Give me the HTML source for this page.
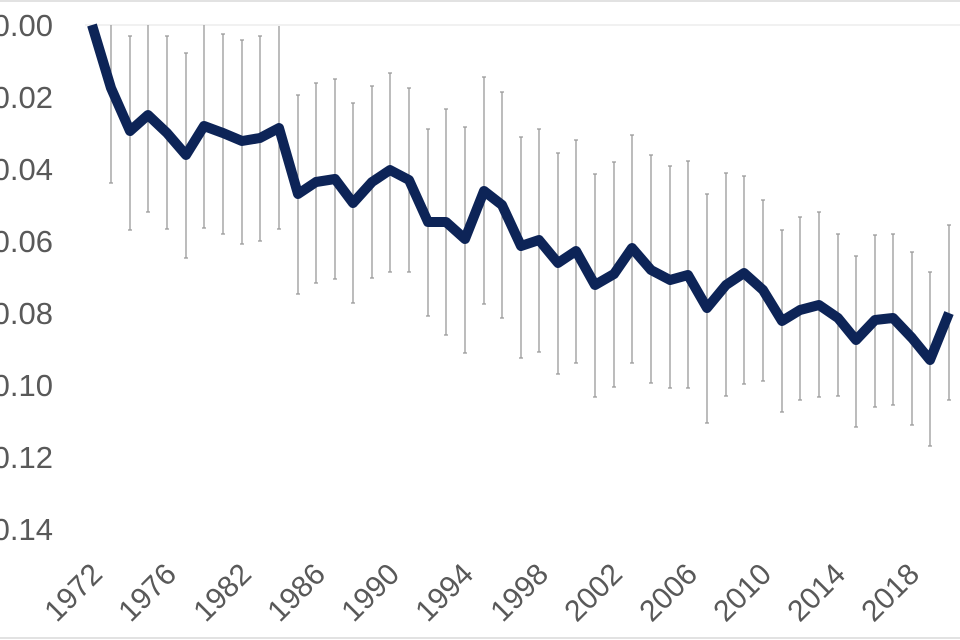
<!DOCTYPE html>
<html><head><meta charset="utf-8"><style>html,body{margin:0;padding:0;background:#fff;}svg{display:block}</style></head>
<body>
<svg width="960" height="640" xmlns="http://www.w3.org/2000/svg" font-family="Liberation Sans, sans-serif">
<line x1="0" y1="1" x2="960" y2="1" stroke="#d9d9d9" stroke-width="1.5"/>
<line x1="0" y1="638" x2="960" y2="638" stroke="#d9d9d9" stroke-width="1.5"/>
<line x1="85" y1="25" x2="960" y2="25" stroke="#e3e3e3" stroke-width="1"/>
<g fill="#595959" font-size="31" text-anchor="end">
<text x="53" y="36">-0.00</text>
<text x="53" y="108">-0.02</text>
<text x="53" y="180">-0.04</text>
<text x="53" y="252">-0.06</text>
<text x="53" y="324">-0.08</text>
<text x="53" y="396">-0.10</text>
<text x="53" y="468">-0.12</text>
<text x="53" y="540">-0.14</text>
</g>
<path stroke="#999" stroke-width="1.3" fill="none" d="
M111,25V183 M130,36V230 M148,25V212 M167,36V229 M186,53V258 M204,25V228 M223,34V234 M242,40V244 M260,36V241 M279,26V229
M298,95V294 M316,83V283 M335,79V279 M353,103V303 M372,86V278 M390,73V272 M409,88V272 M428,129V316 M446,109V335 M465,127V353
M484,77V304 M502,92V318 M521,137V358 M539,129V352 M558,153V374 M576,140V363 M595,174V397 M614,162V387 M632,135V363 M651,155V383
M670,166V388 M688,161V388 M707,194V423 M726,173V396 M744,176V384 M763,200V381 M782,230V412 M800,217V400 M819,212V397 M838,234V396
M856,256V427 M875,235V407 M893,234V405 M912,252V425 M930,272V446 M949,225V400"/>
<path stroke="#999" stroke-width="1.3" fill="none" d="
M109,183h4 M128,36h4 M128,230h4 M146,212h4 M165,36h4 M165,229h4 M184,53h4 M184,258h4 M202,228h4 M221,34h4 M221,234h4 M240,40h4 M240,244h4 M258,36h4 M258,241h4 M277,229h4
M296,95h4 M296,294h4 M314,83h4 M314,283h4 M333,79h4 M333,279h4 M351,103h4 M351,303h4 M370,86h4 M370,278h4 M388,73h4 M388,272h4 M407,88h4 M407,272h4 M426,129h4 M426,316h4 M444,109h4 M444,335h4 M463,127h4 M463,353h4
M482,77h4 M482,304h4 M500,92h4 M500,318h4 M519,137h4 M519,358h4 M537,129h4 M537,352h4 M556,153h4 M556,374h4 M574,140h4 M574,363h4 M593,174h4 M593,397h4 M612,162h4 M612,387h4 M630,135h4 M630,363h4 M649,155h4 M649,383h4
M668,166h4 M668,388h4 M686,161h4 M686,388h4 M705,194h4 M705,423h4 M724,173h4 M724,396h4 M742,176h4 M742,384h4 M761,200h4 M761,381h4 M780,230h4 M780,412h4 M798,217h4 M798,400h4 M817,212h4 M817,397h4 M836,234h4 M836,396h4
M854,256h4 M854,427h4 M873,235h4 M873,407h4 M891,234h4 M891,405h4 M910,252h4 M910,425h4 M928,272h4 M928,446h4 M947,225h4 M947,400h4"/>
<polyline fill="none" stroke="#0d2457" stroke-width="10" stroke-linejoin="round" stroke-linecap="butt" points="
92,25 111,88 130,131 148,115 167,133 186,155 204,126 223,133 242,141 260,138 279,128 298,194 316,182 335,179 353,203 372,182 390,170 409,180 428,222 446,222 465,239 484,191 502,205 521,246 539,240 558,263 576,251 595,285 614,274 632,248 651,270 670,280 688,275 707,308 726,285 744,273 763,290 782,321 800,310 819,305 838,318 856,340 875,320 893,318 912,338 930,360 949,313"/>
<g fill="#595959" font-size="30" text-anchor="end">
<text transform="translate(104,576) rotate(-45)">1972</text>
<text transform="translate(178,576) rotate(-45)">1976</text>
<text transform="translate(253,576) rotate(-45)">1982</text>
<text transform="translate(327,576) rotate(-45)">1986</text>
<text transform="translate(401,576) rotate(-45)">1990</text>
<text transform="translate(475,576) rotate(-45)">1994</text>
<text transform="translate(550,576) rotate(-45)">1998</text>
<text transform="translate(624,576) rotate(-45)">2002</text>
<text transform="translate(699,576) rotate(-45)">2006</text>
<text transform="translate(773,576) rotate(-45)">2010</text>
<text transform="translate(847,576) rotate(-45)">2014</text>
<text transform="translate(921,576) rotate(-45)">2018</text>
</g>
</svg>
</body></html>
